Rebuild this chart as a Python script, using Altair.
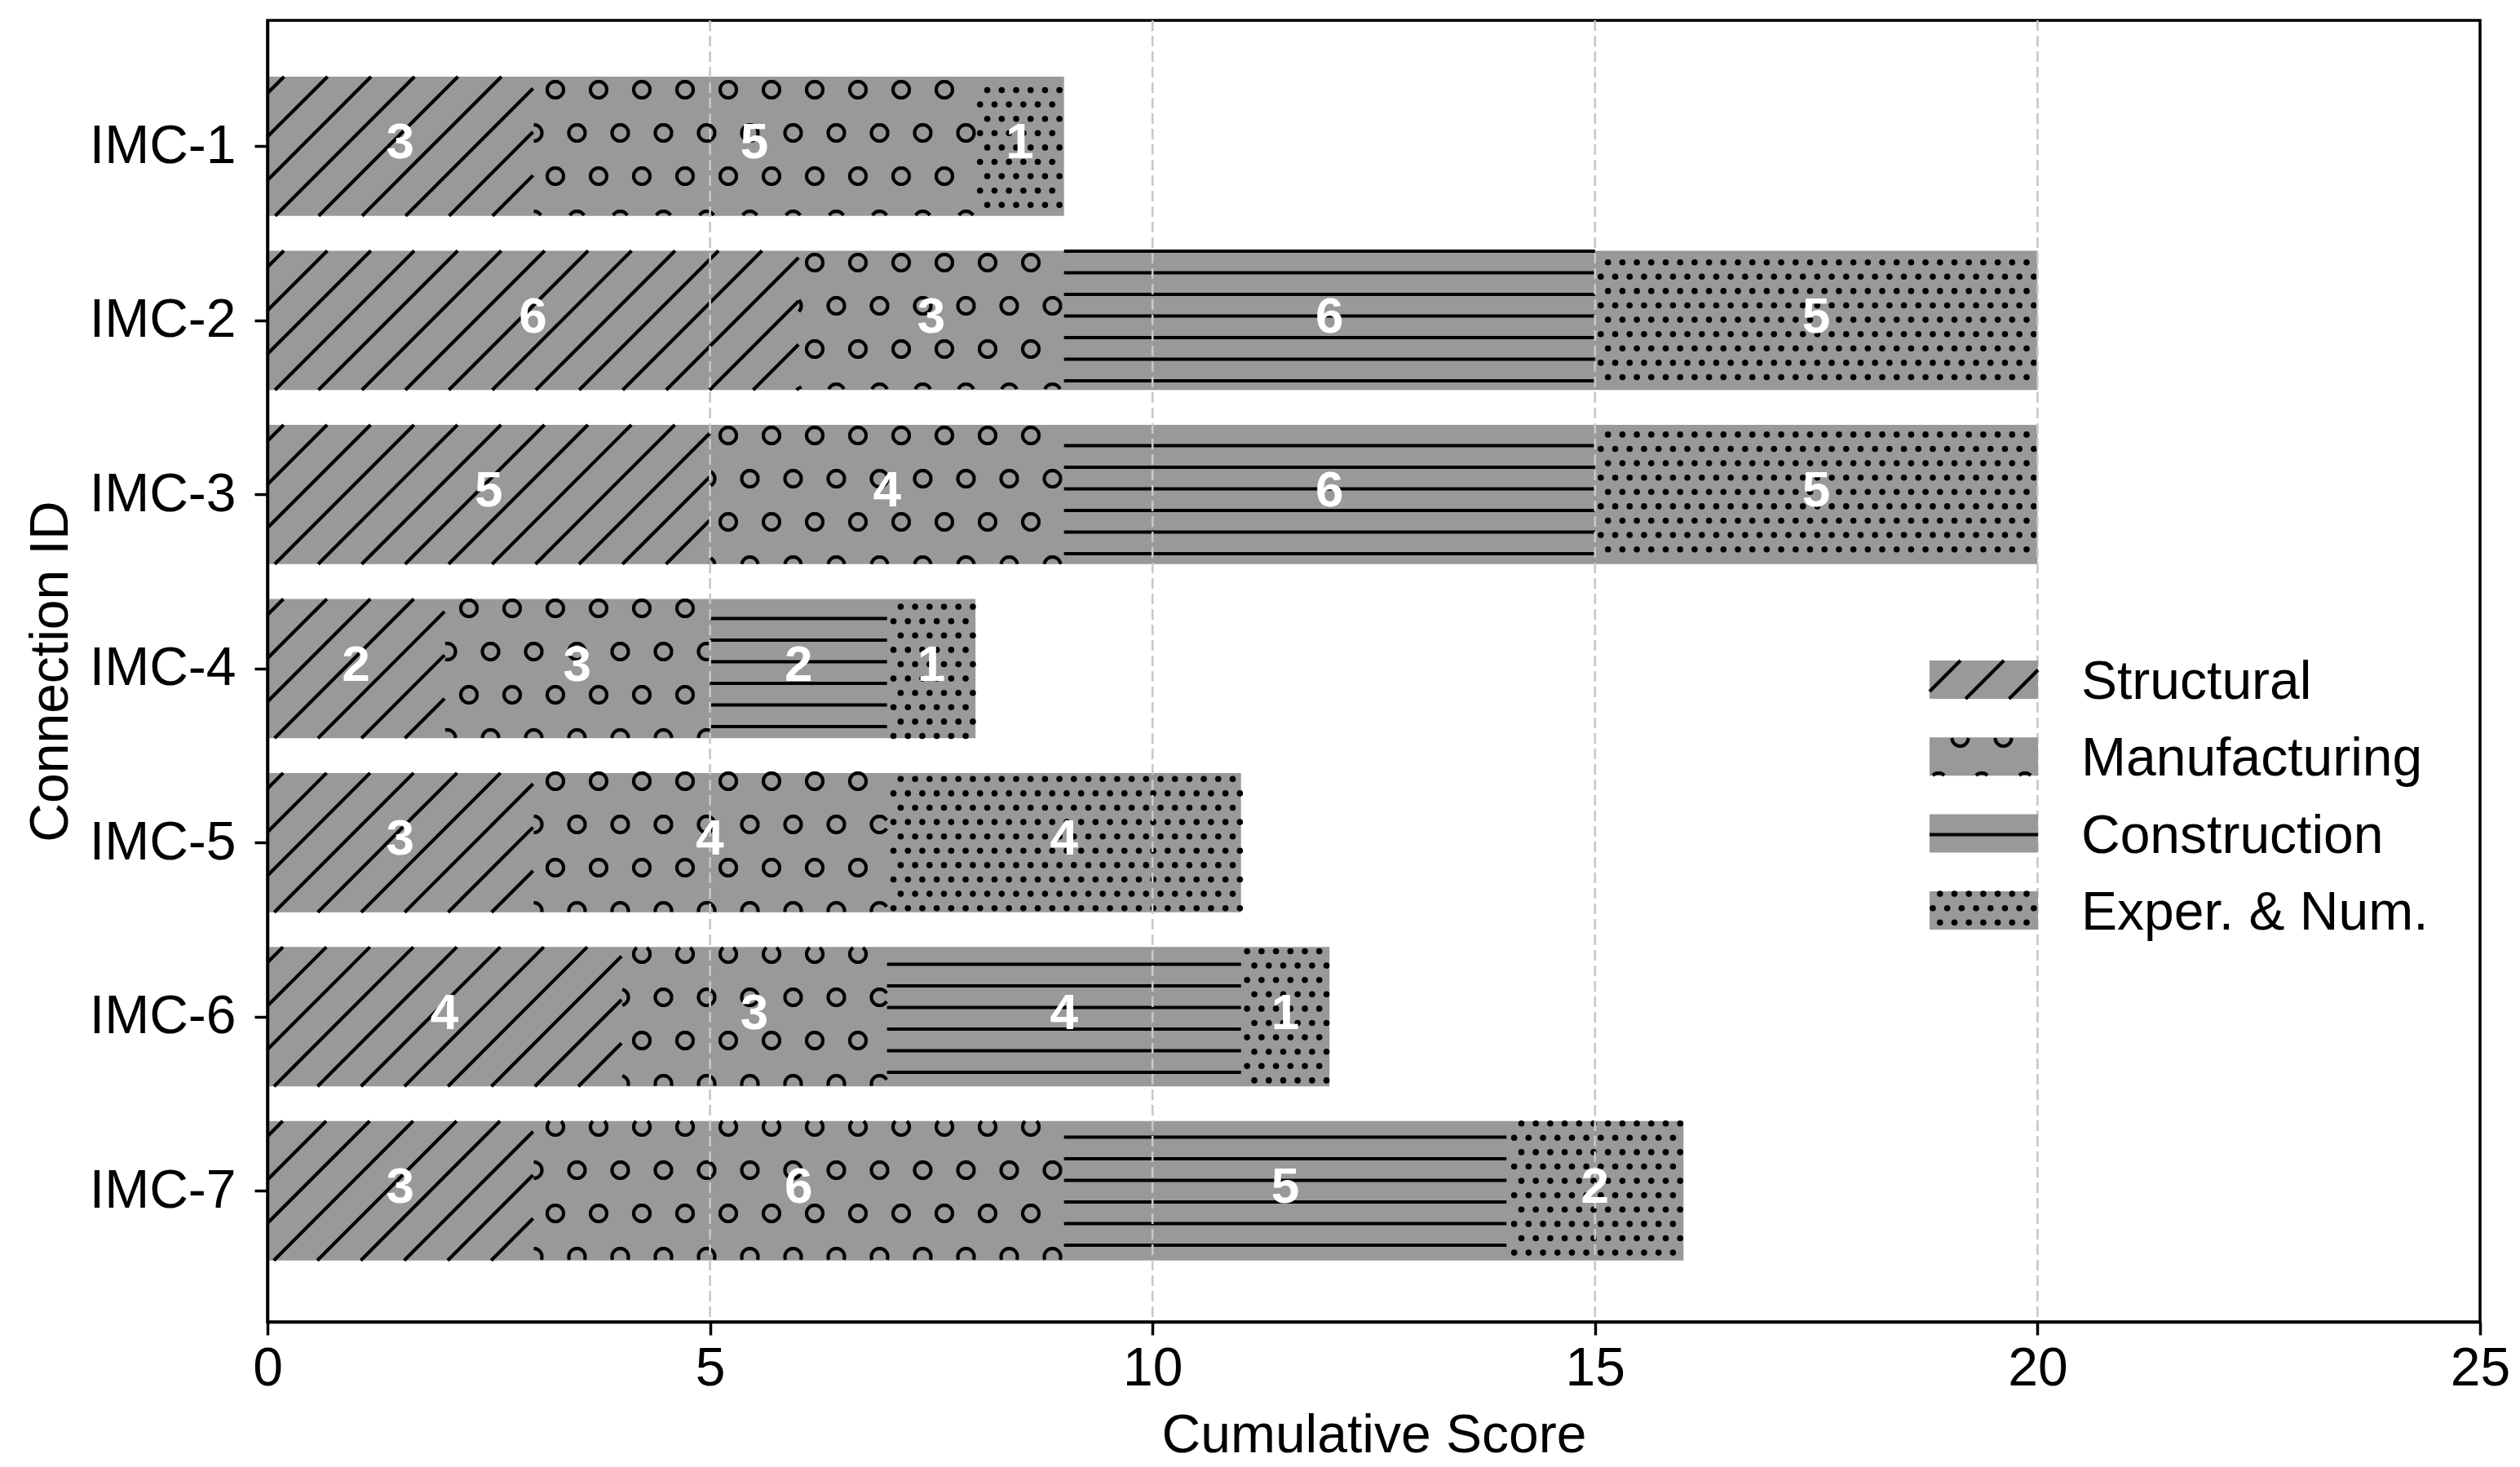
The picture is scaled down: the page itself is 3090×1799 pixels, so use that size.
import math
import json
import altair as alt
import pandas as pd

# ---------------- data ----------------
connections = ["IMC-1", "IMC-2", "IMC-3", "IMC-4", "IMC-5", "IMC-6", "IMC-7"]
categories = ["Structural", "Manufacturing", "Construction", "Exper. & Num."]
structural = [3, 6, 5, 2, 3, 4, 3]
manufacturing = [5, 3, 4, 3, 4, 3, 6]
construction = [0, 6, 6, 2, 0, 4, 5]
exper_num = [1, 5, 5, 1, 4, 1, 2]
x_ticks = [0, 5, 10, 15, 20, 25]
grid_values = [5, 10, 15, 20]
series = [structural, manufacturing, construction, exper_num]
patterns = ["diag", "circle", "hline", "dot"]

# ---------------- style / layout ----------------
GRAY = "#999999"
FONT = "Liberation Sans"
W, H = 2713, 1596
X_DOMAIN = [0, 25]
Y_DOMAIN = [-0.723, 6.753]
BAR_HALF = 0.4
KX = W / (X_DOMAIN[1] - X_DOMAIN[0])
KY = H / (Y_DOMAIN[1] - Y_DOMAIN[0])

DIAG_STEP, DIAG_PHASE = 53.3, 36.0
H_STEP, H_PHASE = 26.5, 18.0
C_STEP, C_PX, C_PY, C_R = 53.0, 35.0, 32.0, 10.0
D_SX, D_SY, D_PX, D_PY = 17.7, 17.6, 15.3, 15.1
HATCH_W = 4.2

LEG_X0, LEG_W, LEG_Y0, LEG_DY, LEG_H, LEG_TX = 2038, 133, 785, 94.3, 47, 2224


def to_dx(px):
    return X_DOMAIN[0] + px / KX


def to_dy(py):
    return Y_DOMAIN[0] + py / KY


def to_px(x):
    return (x - X_DOMAIN[0]) * KX


def to_py(y):
    return (y - Y_DOMAIN[0]) * KY


# ---------------- hatch generators (pixel space of plot) ----------------
def diag(rect):
    x0, x1, yt, yb = rect
    out = []
    k0 = math.floor((x0 + yt - DIAG_PHASE) / DIAG_STEP) - 1
    k1 = math.ceil((x1 + yb - DIAG_PHASE) / DIAG_STEP) + 1
    for k in range(k0, k1 + 1):
        c = DIAG_PHASE + k * DIAG_STEP
        pa = max(x0, c - yb)
        pb = min(x1, c - yt)
        if pb - pa > 0.5:
            out.append((pa, c - pa, pb, c - pb))
    return out


def hlines(rect):
    x0, x1, yt, yb = rect
    out = []
    k0 = math.ceil((yt + 0.5 - H_PHASE) / H_STEP)
    k1 = math.floor((yb - 0.5 - H_PHASE) / H_STEP)
    for k in range(k0, k1 + 1):
        y = H_PHASE + k * H_STEP
        out.append((x0, y, x1, y))
    return out


def circles(rect):
    x0, x1, yt, yb = rect
    runs_all = []
    n = 48
    j0 = math.floor((yt - C_R - C_PY) / C_STEP)
    j1 = math.ceil((yb + C_R - C_PY) / C_STEP)
    for j in range(j0, j1 + 1):
        cy = C_PY + j * C_STEP
        off = C_STEP / 2 if j % 2 == 0 else 0.0
        i0 = math.floor((x0 - C_R - C_PX - off) / C_STEP)
        i1 = math.ceil((x1 + C_R - C_PX - off) / C_STEP)
        for i in range(i0, i1 + 1):
            cx = C_PX + off + i * C_STEP
            pts = [(cx + C_R * math.cos(2 * math.pi * t / n),
                    cy + C_R * math.sin(2 * math.pi * t / n)) for t in range(n)]
            inside = [x0 <= px <= x1 and yt <= py <= yb for px, py in pts]
            if all(inside):
                runs_all.append(pts + [pts[0]])
                continue
            if not any(inside):
                continue
            s = inside.index(False)
            cur = []
            for t in range(n):
                idx = (s + t) % n
                if inside[idx]:
                    cur.append(pts[idx])
                else:
                    if len(cur) >= 2:
                        runs_all.append(cur)
                    cur = []
            if len(cur) >= 2:
                runs_all.append(cur)
    return runs_all


def dots(rect):
    x0, x1, yt, yb = rect
    out = []
    j0 = math.ceil((yt + 1 - D_PY) / D_SY)
    j1 = math.floor((yb - 1 - D_PY) / D_SY)
    for j in range(j0, j1 + 1):
        y = D_PY + j * D_SY
        off = D_SX / 2 if j % 2 else 0.0
        i0 = math.ceil((x0 + 1 - D_PX - off) / D_SX)
        i1 = math.floor((x1 - 1 - D_PX - off) / D_SX)
        for i in range(i0, i1 + 1):
            out.append((D_PX + off + i * D_SX, y))
    return out


def hatch_rows(rect, pattern, rules, circ, dts, gid):
    if pattern in ("diag", "hline"):
        segs = diag(rect) if pattern == "diag" else hlines(rect)
        for a, b, c, d in segs:
            rules.append({"x": to_dx(a), "y": to_dy(b), "x2": to_dx(c), "y2": to_dy(d)})
    elif pattern == "circle":
        for run in circles(rect):
            gid[0] += 1
            for k, (px, py) in enumerate(run):
                circ.append({"x": to_dx(px), "y": to_dy(py), "g": gid[0], "k": k})
    else:
        for px, py in dots(rect):
            dts.append({"x": to_dx(px), "y": to_dy(py)})


# ---------------- build tables ----------------
bar_rows, label_rows = [], []
bar_rules, bar_circ, bar_dots = [], [], []
gid = [0]
for i, name in enumerate(connections):
    start = 0
    for ci, vals in enumerate(series):
        v = vals[i]
        if v <= 0:
            continue
        end = start + v
        rect = (to_px(start), to_px(end), to_py(i - BAR_HALF), to_py(i + BAR_HALF))
        hatch_rows(rect, patterns[ci], bar_rules, bar_circ, bar_dots, gid)
        label_rows.append({"x": (start + end) / 2, "y": i, "t": str(v)})
        start = end
    bar_rows.append({"x": 0, "x2": start, "y": i - BAR_HALF, "y2": i + BAR_HALF})

leg_rows, leg_text = [], []
leg_rules, leg_circ, leg_dots = [], [], []
for ci, cat in enumerate(categories):
    top = LEG_Y0 + ci * LEG_DY
    rect = (LEG_X0, LEG_X0 + LEG_W, top, top + LEG_H)
    leg_rows.append({"x": to_dx(rect[0]), "x2": to_dx(rect[1]),
                     "y": to_dy(rect[2]), "y2": to_dy(rect[3])})
    hatch_rows(rect, patterns[ci], leg_rules, leg_circ, leg_dots, gid)
    leg_text.append({"x": to_dx(LEG_TX), "y": to_dy(top + LEG_H), "t": cat})

# ---------------- encodings ----------------
xs = alt.Scale(domain=X_DOMAIN, nice=False, zero=False)
ys = alt.Scale(domain=Y_DOMAIN, nice=False, zero=False, reverse=True)
x_axis = alt.Axis(values=x_ticks, title="Cumulative Score", grid=False,
                  tickSize=16, tickWidth=3.5, tickColor="black",
                  domainColor="black", domainWidth=3.5,
                  labelFontSize=66, labelColor="black", labelFont=FONT,
                  labelBaseline="alphabetic", labelPadding=61,
                  labelFlush=False, labelOverlap=False, labelBound=False,
                  titleFontSize=66, titleFont=FONT, titleFontWeight="normal",
                  titleColor="black", titleBaseline="alphabetic", titleY=159,
                  zindex=1)
y_axis = alt.Axis(values=list(range(len(connections))),
                  labelExpr=json.dumps(connections) + "[datum.value]",
                  title="Connection ID", grid=False,
                  tickSize=16, tickWidth=3.5, tickColor="black",
                  domainColor="black", domainWidth=3.5,
                  labelFontSize=66, labelColor="black", labelFont=FONT,
                  labelBaseline="middle", labelPadding=23, labelFlush=False,
                  labelOverlap=False, labelBound=False,
                  titleFontSize=66, titleFont=FONT, titleFontWeight="normal",
                  titleColor="black", titleBaseline="alphabetic",
                  titleAngle=270, titleX=-246, titleY=H / 2, titleAlign="center",
                  zindex=1)


def X(f):
    return alt.X(f, type="quantitative", scale=xs, axis=x_axis)


def Y(f):
    return alt.Y(f, type="quantitative", scale=ys, axis=y_axis)


def rect_layer(rows):
    return alt.Chart(pd.DataFrame(rows)).mark_rect(color=GRAY, strokeWidth=0).encode(
        x=X("x"), x2=alt.X2("x2"), y=Y("y"), y2=alt.Y2("y2"))


def rule_layer(rows):
    return alt.Chart(pd.DataFrame(rows)).mark_rule(
        color="black", strokeWidth=HATCH_W, strokeCap="butt").encode(
        x=X("x"), x2=alt.X2("x2"), y=Y("y"), y2=alt.Y2("y2"))


def circ_layer(rows):
    return alt.Chart(pd.DataFrame(rows)).mark_line(
        color="black", strokeWidth=HATCH_W, strokeCap="butt").encode(
        x=X("x"), y=Y("y"), detail="g:N", order="k:Q")


def dot_layer(rows):
    return alt.Chart(pd.DataFrame(rows)).mark_point(
        shape="circle", filled=True, color="black", size=58, opacity=1,
        strokeWidth=0).encode(x=X("x"), y=Y("y"))


grid = alt.Chart(pd.DataFrame({"x": grid_values})).mark_rule(
    color="#c8c8c8", strokeWidth=2.6, strokeDash=[13, 6]).encode(x=X("x"))

labels = alt.Chart(pd.DataFrame(label_rows)).mark_text(
    color="white", fontSize=62, fontWeight="bold", font=FONT,
    baseline="middle", align="center", dy=-4).encode(
    x=X("x"), y=Y("y"), text="t:N")

leg_labels = alt.Chart(pd.DataFrame(leg_text)).mark_text(
    color="black", fontSize=66, font=FONT, baseline="alphabetic",
    align="left").encode(x=X("x"), y=Y("y"), text="t:N")

chart = alt.layer(
    rect_layer(bar_rows),
    rule_layer(bar_rules),
    circ_layer(bar_circ),
    dot_layer(bar_dots),
    grid,
    rect_layer(leg_rows),
    rule_layer(leg_rules),
    circ_layer(leg_circ),
    dot_layer(leg_dots),
    leg_labels,
    labels,
).properties(
    width=W, height=H,
    autosize=alt.AutoSizeParams(type="none"),
    padding={"left": 320, "top": 17, "right": 40, "bottom": 174},
).configure(
    font=FONT, background="white"
).configure_view(
    stroke="black", strokeWidth=3.5
)

chart.save("out.html", embed_options={"renderer": "svg", "actions": False})
